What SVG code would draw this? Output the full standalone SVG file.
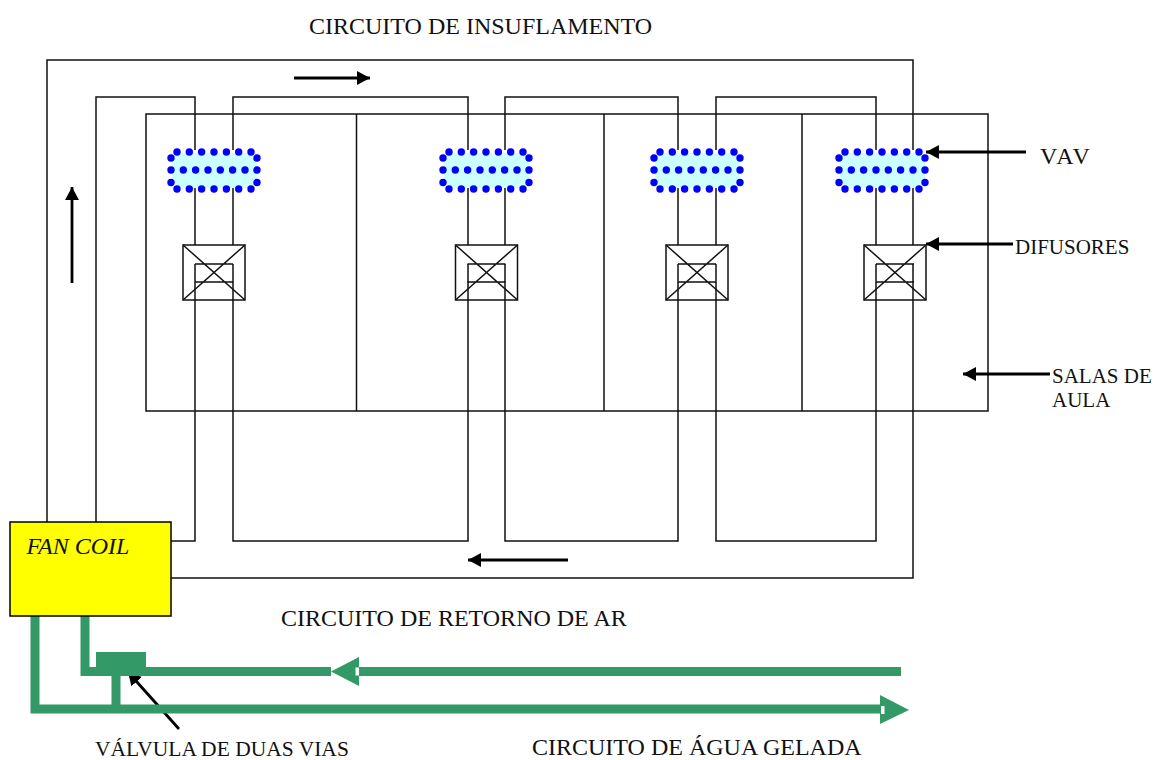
<svg xmlns="http://www.w3.org/2000/svg" xmlns:xlink="http://www.w3.org/1999/xlink" width="1163" height="760" viewBox="0 0 1163 760">
<style>
text{font-family:"Liberation Serif","Times New Roman",serif;fill:#111}
.l{font-size:24px}.s{font-size:21px}
.w{fill:none;stroke:#111;stroke-width:1.5}
.a{fill:none;stroke:#000;stroke-width:2.8;marker-end:url(#h)}
.g{fill:none;stroke:#339966;stroke-width:9}
.gf{fill:#339966}
.d{fill:#0000ff}
</style>
<defs>
<marker id="h" markerUnits="userSpaceOnUse" markerWidth="15" markerHeight="15" refX="13" refY="7" orient="auto"><path d="M0 0L13 7L0 14Z" fill="#000"/></marker>
<g id="vav">
<rect x="172" y="153" width="85" height="35" rx="12" fill="#ccffff"/>
<g class="d">
<circle cx="177" cy="152" r="3.7"/><circle cx="189.300" cy="152" r="3.7"/><circle cx="201.600" cy="152" r="3.7"/><circle cx="214" cy="152" r="3.7"/><circle cx="226.400" cy="152" r="3.7"/><circle cx="238.700" cy="152" r="3.7"/><circle cx="251" cy="152" r="3.7"/>
<circle cx="171" cy="158" r="3.7"/><circle cx="257" cy="158" r="3.7"/>
<circle cx="171" cy="170" r="3.7"/><circle cx="183.300" cy="170" r="3.7"/><circle cx="195.600" cy="170" r="3.7"/><circle cx="208" cy="170" r="3.7"/><circle cx="220.300" cy="170" r="3.7"/><circle cx="232.600" cy="170" r="3.7"/><circle cx="245" cy="170" r="3.7"/><circle cx="257" cy="170" r="3.7"/>
<circle cx="171" cy="182.500" r="3.7"/><circle cx="257" cy="182.500" r="3.7"/>
<circle cx="177" cy="189" r="3.7"/><circle cx="189.300" cy="189" r="3.7"/><circle cx="201.600" cy="189" r="3.7"/><circle cx="214" cy="189" r="3.7"/><circle cx="226.400" cy="189" r="3.7"/><circle cx="238.700" cy="189" r="3.7"/><circle cx="251" cy="189" r="3.7"/>
</g>
</g>
<g id="dif" class="w">
<rect x="183" y="245" width="62" height="55"/>
<path d="M183 245L245 300M245 245L183 300M195 264H233M195 282H233"/>
</g>
</defs>
<g id="salas"><path class="w" d="M146 114H988V411H146ZM356.500 114V411M604 114V411M802 114V411"/></g>
<g id="connectors">
<path class="w" d="M47 522V60H913V150M913 188V245M913 264V578H171"/>
<path class="w" d="M96 522V97H195V150M195 188V245M195 264V541H171"/>
<path class="w" d="M233 150V97H468V150M233 188V245M468 188V245M233 264V541H468V264"/>
<path class="w" d="M505 150V97H678V150M505 188V245M678 188V245M505 264V541H678V264"/>
<path class="w" d="M716 150V97H876V150M716 188V245M876 188V245M716 264V541H876V264"/>
<path class="a" d="M294 78H370"/>
<path class="a" d="M72 283V187"/>
<path class="a" d="M568 560H468"/>
<path class="a" d="M1026 152H926"/>
<path class="a" d="M1013 244H926"/>
<path class="a" d="M1050 374H963"/>
<path class="a" d="M179 729L128 672"/>
<path class="g" d="M35 616V709H885"/>
<path class="g" d="M85 616V671.500H331M359 671.500H901M116 671V709"/>
<path class="gf" d="M331 671.500L359 657V686Z"/>
<rect x="355.500" y="667.500" width="3.500" height="8" fill="#fff"/>
<path class="gf" d="M909 710L880 695V724Z"/>
<rect x="881" y="706" width="3.500" height="8" fill="#fff"/>
</g>
<g id="vav1"><use xlink:href="#vav" href="#vav"/></g>
<g id="vav2"><use href="#vav" x="272"/></g>
<g id="vav3"><use href="#vav" x="483"/></g>
<g id="vav4"><use href="#vav" x="668"/></g>
<g id="difusor1"><use href="#dif"/></g>
<g id="difusor2"><use href="#dif" x="272.500"/></g>
<g id="difusor3"><use href="#dif" x="483"/></g>
<g id="difusor4"><use href="#dif" x="681"/></g>
<g id="fancoil">
<rect x="10" y="522" width="161" height="94" fill="#ffff00" stroke="#000" stroke-width="1.500"/>
<text x="26.500" y="554" class="l" font-style="italic">FAN COIL</text>
</g>
<g id="valvula">
<rect x="96" y="652" width="50" height="24" class="gf"/>
<text x="95" y="755.500" font-size="21.500">VÁLVULA DE DUAS VIAS</text>
</g>
<text x="309" y="34" class="l">CIRCUITO DE INSUFLAMENTO</text>
<text x="1040" y="163.500" class="l" letter-spacing="2">VAV</text>
<text x="1015" y="254" class="s">DIFUSORES</text>
<text x="1052" y="383" class="s">SALAS DE</text>
<text x="1052" y="407" class="s">AULA</text>
<text x="281" y="626" class="l">CIRCUITO DE RETORNO DE AR</text>
<text x="532" y="755" class="l">CIRCUITO DE ÁGUA GELADA</text>
</svg>
